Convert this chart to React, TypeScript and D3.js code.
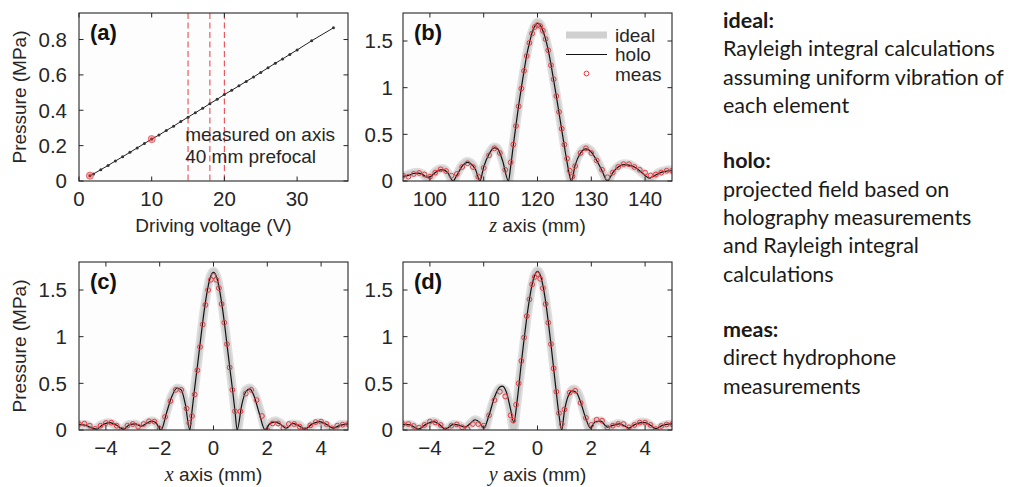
import React from 'react';
import * as d3 from 'd3';

// ---------- Panel (a): pressure vs driving voltage ----------
const voltageA = [1.5, 2, 3, 4, 5, 6, 7, 8, 9, 10, 11, 12, 13, 14, 15, 16, 17, 18, 19, 20, 21, 22, 23, 24, 25, 26, 27, 28, 29, 30, 32, 35];
const pressureA = [0.030, 0.040, 0.064, 0.088, 0.113, 0.137, 0.162, 0.187, 0.212, 0.237, 0.260, 0.285, 0.310, 0.336, 0.361, 0.386, 0.411, 0.437, 0.462, 0.489, 0.513, 0.538, 0.563, 0.588, 0.614, 0.640, 0.666, 0.690, 0.716, 0.741, 0.793, 0.866];
const redVoltageA = [1.5, 10];
const redPressureA = [0.03, 0.237];
const dashedVoltageA = [15, 18, 20];
const xTicksA = [0, 10, 20, 30];
const yTicksA = [0, 0.2, 0.4, 0.6, 0.8];

// ---------- Panel (b): z axis ----------
const idealZ = [95, 96, 97, 97.8, 98.5, 99.5, 100, 101, 102, 102.5, 103.3, 104.3, 105, 106, 107, 107.5, 108.5, 109.3, 110, 111, 112, 112.5, 113.5, 114.6, 115, 115.5, 116, 116.5, 117, 117.5, 118, 118.5, 119, 119.5, 120, 120.5, 121, 121.5, 122, 122.5, 123, 123.5, 124, 124.5, 125, 125.5, 126.3, 127, 128, 129, 130, 131, 132, 133, 134, 135, 136, 137, 138, 139, 140, 140.8, 141.5, 142.5, 143.5, 144.5, 145];
const idealP_B = [0.05, 0.07, 0.09, 0.095, 0.08, 0.035, 0.04, 0.10, 0.13, 0.13, 0.09, 0.0, 0.07, 0.17, 0.21, 0.20, 0.12, 0.0, 0.16, 0.30, 0.365, 0.355, 0.22, 0.0, 0.15, 0.39, 0.61, 0.82, 1.01, 1.19, 1.36, 1.50, 1.60, 1.67, 1.70, 1.68, 1.62, 1.53, 1.41, 1.26, 1.09, 0.92, 0.74, 0.56, 0.38, 0.20, 0.0, 0.18, 0.31, 0.355, 0.32, 0.23, 0.11, 0.0, 0.10, 0.16, 0.185, 0.18, 0.15, 0.11, 0.06, 0.02, 0.05, 0.09, 0.11, 0.12, 0.115];
const holoZ = [95, 96, 97, 97.8, 98.5, 99.5, 100, 101, 102, 102.5, 103.3, 104.3, 105, 106, 107, 107.5, 108.5, 109.3, 110, 111, 112, 112.5, 113.5, 114.6, 115, 115.5, 116, 116.5, 117, 117.5, 118, 118.5, 119, 119.5, 120, 120.5, 121, 121.5, 122, 122.5, 123, 123.5, 124, 124.5, 125, 125.5, 126.3, 127, 128, 129, 130, 131, 132, 133, 134, 135, 136, 137, 138, 139, 140, 140.8, 141.5, 142.5, 143.5, 144.5, 145];
const holoP_B = [0.05, 0.06, 0.08, 0.085, 0.075, 0.04, 0.045, 0.09, 0.12, 0.12, 0.09, 0.0, 0.06, 0.16, 0.20, 0.19, 0.12, 0.0, 0.15, 0.29, 0.355, 0.35, 0.22, 0.0, 0.15, 0.38, 0.60, 0.81, 1.00, 1.18, 1.35, 1.48, 1.59, 1.66, 1.69, 1.67, 1.61, 1.52, 1.40, 1.25, 1.08, 0.91, 0.73, 0.55, 0.37, 0.20, 0.0, 0.17, 0.30, 0.345, 0.31, 0.22, 0.11, 0.0, 0.09, 0.15, 0.175, 0.17, 0.15, 0.11, 0.06, 0.03, 0.05, 0.08, 0.10, 0.11, 0.11];
const measZ = [95, 96, 97, 98, 99, 100, 101, 102, 103, 104, 105, 106, 107, 108, 109, 110, 111, 112, 113, 114, 115, 115.5, 116, 116.5, 117, 117.5, 118, 118.5, 119, 119.5, 120, 120.5, 121, 121.5, 122, 122.5, 123, 123.5, 124, 124.5, 125, 125.5, 126, 126.5, 127, 128, 129, 130, 131, 132, 133, 134, 135, 136, 137, 138, 139, 140, 141, 142, 143, 144, 145];
const measP_B = [0.057, 0.046, 0.075, 0.086, 0.07, 0.046, 0.09, 0.125, 0.107, 0.057, 0.075, 0.15, 0.19, 0.15, 0.046, 0.14, 0.275, 0.35, 0.30, 0.12, 0.20, 0.39, 0.59, 0.80, 0.99, 1.18, 1.34, 1.48, 1.58, 1.65, 1.67, 1.66, 1.61, 1.52, 1.40, 1.24, 1.09, 0.91, 0.74, 0.56, 0.39, 0.24, 0.11, 0.05, 0.16, 0.30, 0.35, 0.30, 0.22, 0.12, 0.04, 0.09, 0.15, 0.18, 0.18, 0.15, 0.12, 0.09, 0.06, 0.07, 0.09, 0.11, 0.11];
const xTicksB = [100, 110, 120, 130, 140];
const yTicksProfile = [0, 0.5, 1, 1.5];

// ---------- Panel (c): x axis ----------
const idealX_C = [-5, -4.75, -4.45, -4.15, -3.9, -3.65, -3.4, -3.15, -2.9, -2.7, -2.5, -2.3, -2.15, -1.95, -1.75, -1.55, -1.35, -1.2, -1.05, -0.88, -0.8, -0.7, -0.6, -0.5, -0.4, -0.3, -0.2, -0.1, 0, 0.1, 0.2, 0.3, 0.4, 0.5, 0.6, 0.7, 0.8, 0.88, 1.05, 1.2, 1.35, 1.55, 1.75, 1.95, 2.15, 2.3, 2.5, 2.7, 2.9, 3.15, 3.4, 3.65, 3.9, 4.15, 4.45, 4.75, 5];
const idealP_C = [0.06, 0.06, 0.01, 0.06, 0.08, 0.05, 0.0, 0.06, 0.065, 0.03, 0.07, 0.10, 0.08, 0.0, 0.19, 0.37, 0.45, 0.43, 0.28, 0.0, 0.20, 0.45, 0.69, 0.93, 1.17, 1.38, 1.55, 1.66, 1.70, 1.66, 1.55, 1.38, 1.17, 0.93, 0.69, 0.45, 0.20, 0.0, 0.28, 0.43, 0.45, 0.37, 0.19, 0.0, 0.08, 0.10, 0.07, 0.03, 0.065, 0.06, 0.0, 0.05, 0.08, 0.06, 0.01, 0.06, 0.06];
const holoX_C = [-5, -4.75, -4.5, -4.35, -4.1, -3.85, -3.6, -3.35, -3.1, -2.9, -2.7, -2.5, -2.3, -2.15, -1.95, -1.75, -1.55, -1.35, -1.2, -1.05, -0.88, -0.8, -0.7, -0.6, -0.5, -0.4, -0.3, -0.2, -0.1, 0, 0.1, 0.2, 0.3, 0.4, 0.5, 0.6, 0.7, 0.8, 0.88, 1.05, 1.2, 1.35, 1.5, 1.7, 1.92, 2.1, 2.3, 2.5, 2.7, 2.95, 3.2, 3.4, 3.65, 3.95, 4.2, 4.45, 4.7, 5];
const holoP_C = [0.06, 0.05, 0.02, 0.01, 0.06, 0.08, 0.05, 0.01, 0.06, 0.065, 0.04, 0.07, 0.095, 0.08, 0.0, 0.18, 0.36, 0.45, 0.43, 0.28, 0.0, 0.20, 0.45, 0.68, 0.92, 1.16, 1.37, 1.54, 1.65, 1.69, 1.65, 1.54, 1.37, 1.16, 0.92, 0.68, 0.45, 0.20, 0.0, 0.27, 0.41, 0.44, 0.37, 0.18, 0.0, 0.07, 0.085, 0.06, 0.02, 0.07, 0.04, 0.01, 0.06, 0.09, 0.06, 0.02, 0.05, 0.065];
const measX_C = [-5, -4.8, -4.6, -4.4, -4.2, -4, -3.8, -3.6, -3.4, -3.2, -3, -2.8, -2.6, -2.4, -2.2, -2, -1.8, -1.6, -1.4, -1.2, -1, -0.9, -0.8, -0.7, -0.6, -0.5, -0.4, -0.3, -0.2, -0.1, 0, 0.1, 0.2, 0.3, 0.4, 0.5, 0.6, 0.7, 0.8, 1, 1.2, 1.4, 1.6, 1.8, 2, 2.2, 2.4, 2.6, 2.8, 3, 3.2, 3.4, 3.6, 3.8, 4, 4.2, 4.4, 4.6, 4.8, 5];
const measP_C = [0.064, 0.068, 0.046, 0.012, 0.046, 0.075, 0.079, 0.046, 0.005, 0.046, 0.064, 0.036, 0.064, 0.093, 0.09, 0.011, 0.14, 0.31, 0.43, 0.43, 0.23, 0.075, 0.15, 0.38, 0.64, 0.89, 1.13, 1.34, 1.50, 1.61, 1.65, 1.61, 1.52, 1.35, 1.15, 0.92, 0.67, 0.43, 0.20, 0.20, 0.39, 0.43, 0.32, 0.15, 0.0, 0.07, 0.07, 0.02, 0.064, 0.064, 0.036, 0.0, 0.05, 0.085, 0.09, 0.064, 0.018, 0.046, 0.057, 0.064];
const xTicksCD = [-4, -2, 0, 2, 4];

// ---------- Panel (d): y axis ----------
const idealX_D = [-5, -4.75, -4.42, -4.15, -3.88, -3.65, -3.42, -3.12, -2.9, -2.69, -2.5, -2.32, -2.15, -1.98, -1.78, -1.58, -1.38, -1.22, -1.05, -0.88, -0.8, -0.7, -0.6, -0.5, -0.4, -0.3, -0.2, -0.1, 0, 0.1, 0.2, 0.3, 0.4, 0.5, 0.6, 0.7, 0.8, 0.9, 1.05, 1.2, 1.35, 1.55, 1.75, 1.96, 2.15, 2.35, 2.6, 2.8, 3.05, 3.25, 3.42, 3.62, 3.88, 4.05, 4.2, 4.42, 4.7, 5];
const idealP_D = [0.06, 0.06, 0.01, 0.06, 0.09, 0.06, 0.0, 0.06, 0.05, 0.02, 0.07, 0.11, 0.08, 0.0, 0.18, 0.36, 0.45, 0.43, 0.27, 0.0, 0.20, 0.45, 0.69, 0.94, 1.18, 1.39, 1.56, 1.67, 1.71, 1.67, 1.56, 1.39, 1.17, 0.93, 0.68, 0.43, 0.18, 0.0, 0.25, 0.40, 0.44, 0.37, 0.17, 0.0, 0.09, 0.10, 0.03, 0.05, 0.07, 0.04, 0.01, 0.055, 0.085, 0.08, 0.05, 0.01, 0.05, 0.065];
const holoX_D = [-5, -4.74, -4.42, -4.15, -3.86, -3.65, -3.43, -3.12, -2.9, -2.69, -2.5, -2.32, -2.15, -2, -1.8, -1.6, -1.4, -1.3, -1.15, -1, -0.88, -0.75, -0.6, -0.5, -0.4, -0.3, -0.2, -0.1, 0, 0.1, 0.2, 0.3, 0.4, 0.5, 0.6, 0.7, 0.8, 0.9, 1, 1.15, 1.3, 1.45, 1.6, 1.8, 1.97, 2.15, 2.35, 2.6, 2.8, 3.05, 3.25, 3.4, 3.6, 3.85, 4, 4.2, 4.4, 4.65, 5];
const holoP_D = [0.06, 0.055, 0.01, 0.06, 0.09, 0.06, 0.01, 0.06, 0.05, 0.03, 0.07, 0.11, 0.08, 0.02, 0.16, 0.35, 0.46, 0.47, 0.40, 0.22, 0.08, 0.33, 0.72, 0.97, 1.20, 1.40, 1.56, 1.66, 1.70, 1.66, 1.55, 1.38, 1.16, 0.92, 0.66, 0.40, 0.16, 0.0, 0.20, 0.37, 0.42, 0.40, 0.30, 0.12, 0.02, 0.09, 0.095, 0.03, 0.05, 0.065, 0.04, 0.02, 0.055, 0.08, 0.08, 0.05, 0.015, 0.05, 0.065];
const measX_D = [-5, -4.8, -4.6, -4.4, -4.2, -4, -3.8, -3.6, -3.4, -3.2, -3, -2.8, -2.6, -2.4, -2.2, -2, -1.8, -1.6, -1.4, -1.2, -1, -0.9, -0.8, -0.7, -0.6, -0.5, -0.4, -0.3, -0.2, -0.1, 0, 0.1, 0.2, 0.3, 0.4, 0.5, 0.6, 0.7, 0.8, 0.9, 1, 1.2, 1.4, 1.6, 1.8, 2, 2.2, 2.4, 2.6, 2.8, 3, 3.2, 3.4, 3.6, 3.8, 4, 4.2, 4.4, 4.6, 4.8, 5];
const measP_D = [0.064, 0.064, 0.043, 0.025, 0.054, 0.09, 0.082, 0.054, 0.0, 0.046, 0.06, 0.029, 0.01, 0.064, 0.064, 0.046, 0.157, 0.32, 0.41, 0.36, 0.157, 0.10, 0.27, 0.50, 0.74, 0.99, 1.22, 1.40, 1.56, 1.64, 1.67, 1.62, 1.52, 1.35, 1.15, 0.92, 0.66, 0.41, 0.18, 0.064, 0.22, 0.40, 0.42, 0.29, 0.13, 0.054, 0.11, 0.10, 0.025, 0.046, 0.064, 0.064, 0.029, 0.054, 0.079, 0.079, 0.054, 0.01, 0.043, 0.06, 0.064];

// ---------- Legend & side notes ----------
const legendLabels = ['ideal', 'holo', 'meas'];
const notes: { text: string; bold: boolean }[][] = [
  [
    { text: 'ideal:', bold: true },
    { text: 'Rayleigh integral calculations', bold: false },
    { text: 'assuming uniform vibration of', bold: false },
    { text: 'each element', bold: false },
  ],
  [
    { text: 'holo:', bold: true },
    { text: 'projected field based on', bold: false },
    { text: 'holography measurements', bold: false },
    { text: 'and Rayleigh integral', bold: false },
    { text: 'calculations', bold: false },
  ],
  [
    { text: 'meas:', bold: true },
    { text: 'direct hydrophone', bold: false },
    { text: 'measurements', bold: false },
  ],
];

const SANS = '"Liberation Sans", Arial, Helvetica, sans-serif';
const SERIF = '"Liberation Serif", "Times New Roman", serif';
const AXIS = '#262626';
const RED = '#e8393f';
const FS = 19;
const TICK_FS = 20.5;

type Box = { left: number; right: number; top: number; bottom: number };
type Scales = { x: d3.ScaleLinear<number, number>; y: d3.ScaleLinear<number, number> };

function fmtTick(v: number) {
  const s = d3.format('~g')(v);
  return s.replace('-', '\u2212');
}

function Panel(props: {
  box: Box;
  xDomain: [number, number];
  yDomain: [number, number];
  xTicks: number[];
  yTicks: number[];
  tag: string;
  xLabel: React.ReactNode;
  yLabel?: string;
  yLabelGap: number;
  children: (s: Scales) => React.ReactNode;
}) {
  const { box, xDomain, yDomain, xTicks, yTicks, tag, xLabel, yLabel, yLabelGap, children } = props;
  const x = d3.scaleLinear().domain(xDomain).range([box.left, box.right]);
  const y = d3.scaleLinear().domain(yDomain).range([box.bottom, box.top]);
  const tl = 4.5;
  const clipId = 'clip-' + tag.replace(/[()]/g, '');
  return (
    <g>
      <defs>
        <clipPath id={clipId}>
          <rect x={box.left} y={box.top} width={box.right - box.left} height={box.bottom - box.top} />
        </clipPath>
      </defs>
      <rect x={box.left} y={box.top} width={box.right - box.left} height={box.bottom - box.top} fill="#fdfdfd" />
      <g clipPath={`url(#${clipId})`}>{children({ x, y })}</g>
      <rect x={box.left} y={box.top} width={box.right - box.left} height={box.bottom - box.top} fill="none" stroke={AXIS} strokeWidth={1.1} />
      {xTicks.map((t) => (
        <g key={'xt' + t}>
          <line x1={x(t)} x2={x(t)} y1={box.bottom} y2={box.bottom - tl} stroke={AXIS} />
          <line x1={x(t)} x2={x(t)} y1={box.top} y2={box.top + tl} stroke={AXIS} />
          <text x={x(t)} y={box.bottom + 25} textAnchor="middle" fontFamily={SANS} fontSize={TICK_FS} fill="#262626">
            {fmtTick(t)}
          </text>
        </g>
      ))}
      {yTicks.map((t) => (
        <g key={'yt' + t}>
          <line x1={box.left} x2={box.left + tl} y1={y(t)} y2={y(t)} stroke={AXIS} />
          <line x1={box.right} x2={box.right - tl} y1={y(t)} y2={y(t)} stroke={AXIS} />
          <text x={box.left - yLabelGap} y={y(t)} dy="0.36em" textAnchor="end" fontFamily={SANS} fontSize={TICK_FS} fill="#262626">
            {fmtTick(t)}
          </text>
        </g>
      ))}
      <text x={box.left + 11} y={box.top + 27} fontFamily={SANS} fontSize={22} fontWeight="bold" fill="#111">
        {tag}
      </text>
      <text x={(box.left + box.right) / 2} y={box.bottom + 51} textAnchor="middle" fontFamily={SANS} fontSize={FS} fill="#262626">
        {xLabel}
      </text>
      {yLabel && (
        <text
          transform={`translate(${box.left - 53},${(box.top + box.bottom) / 2}) rotate(-90)`}
          textAnchor="middle"
          fontFamily={SANS}
          fontSize={FS}
          fill="#262626"
        >
          {yLabel}
        </text>
      )}
    </g>
  );
}

function Profile({ s, idealX, idealP, holoX, holoP, measX, measP }: {
  s: Scales; idealX: number[]; idealP: number[]; holoX: number[]; holoP: number[]; measX: number[]; measP: number[];
}) {
  const line = d3
    .line<[number, number]>()
    .x((d) => s.x(d[0]))
    .y((d) => s.y(d[1]))
    .curve(d3.curveMonotoneX);
  const ideal = idealX.map((v, i) => [v, idealP[i]] as [number, number]);
  const holo = holoX.map((v, i) => [v, holoP[i]] as [number, number]);
  return (
    <g>
      <path d={line(ideal) || ''} fill="none" stroke="#dedede" strokeWidth={9} strokeLinejoin="round" strokeLinecap="round" />
      <path d={line(ideal) || ''} fill="none" stroke="#cccccc" strokeWidth={5.5} strokeLinejoin="round" strokeLinecap="round" />
      <path d={line(holo) || ''} fill="none" stroke="#111" strokeWidth={1.2} />
      {measX.map((v, i) => (
        <circle key={i} cx={s.x(v)} cy={s.y(measP[i])} r={2.4} fill="none" stroke={RED} strokeWidth={1} />
      ))}
    </g>
  );
}

const italic = (ch: string) => (
  <tspan fontFamily={SERIF} fontStyle="italic" fontSize={FS + 1}>
    {ch}
  </tspan>
);

export default function App() {
  const boxA: Box = { left: 79, right: 348, top: 13, bottom: 181 };
  const boxB: Box = { left: 403, right: 672, top: 13, bottom: 181 };
  const boxC: Box = { left: 79, right: 348, top: 262, bottom: 430 };
  const boxD: Box = { left: 403, right: 672, top: 262, bottom: 430 };
  const noteLine = 28.3;
  const groupGap = 55.5;
  let yCursor = 28;
  const noteRows: { text: string; bold: boolean; y: number }[] = [];
  notes.forEach((grp, gi) => {
    if (gi > 0) yCursor += groupGap - noteLine;
    grp.forEach((ln) => {
      noteRows.push({ ...ln, y: yCursor });
      yCursor += noteLine;
    });
  });

  return (
    <svg width={1013} height={487} style={{ position: 'absolute', left: 0, top: 0, background: '#fff' }}>
      <rect x={0} y={0} width={1013} height={487} fill="#fff" />
      <Panel
        box={boxA}
        xDomain={[0, 37]}
        yDomain={[0, 0.95]}
        xTicks={xTicksA}
        yTicks={yTicksA}
        tag="(a)"
        xLabel="Driving voltage (V)"
        yLabel="Pressure (MPa)"
        yLabelGap={12}
      >
        {(s) => {
          const pts = voltageA.map((v, i) => [v, pressureA[i]] as [number, number]);
          const ln = d3.line<[number, number]>().x((d) => s.x(d[0])).y((d) => s.y(d[1]));
          return (
            <g>
              {dashedVoltageA.map((v) => (
                <line key={v} x1={s.x(v)} x2={s.x(v)} y1={s.y(0.95)} y2={s.y(0)} stroke="#ec5a5f" strokeWidth={1.2} strokeDasharray="6,3.5" />
              ))}
              <path d={ln(pts) || ''} fill="none" stroke="#222" strokeWidth={1} />
              {pts.map((p, i) => (
                <circle key={i} cx={s.x(p[0])} cy={s.y(p[1])} r={1.5} fill="#333" />
              ))}
              {redVoltageA.map((v, i) => (
                <circle key={'r' + i} cx={s.x(v)} cy={s.y(redPressureA[i])} r={3.6} fill="rgba(232,57,63,0.45)" stroke="rgba(232,57,63,0.6)" strokeWidth={1} />
              ))}
              <text x={s.x(14.6)} y={140.5} fontFamily={SANS} fontSize={FS} fill="#262626">measured on axis</text>
              <text x={s.x(14.6)} y={163} fontFamily={SANS} fontSize={FS} fill="#262626">40 mm prefocal</text>
            </g>
          );
        }}
      </Panel>
      <Panel
        box={boxB}
        xDomain={[95, 145]}
        yDomain={[0, 1.8]}
        xTicks={xTicksB}
        yTicks={yTicksProfile}
        tag="(b)"
        xLabel={<>{italic('z')} axis (mm)</>}
        yLabelGap={10}
      >
        {(s) => <Profile s={s} idealX={idealZ} idealP={idealP_B} holoX={holoZ} holoP={holoP_B} measX={measZ} measP={measP_B} />}
      </Panel>
      {/* legend for (b) */}
      <g>
        <line x1={566} x2={607} y1={35} y2={35} stroke="#d0d0d0" strokeWidth={7} />
        <line x1={566} x2={607} y1={54.5} y2={54.5} stroke="#111" strokeWidth={1.2} />
        <circle cx={586.5} cy={73.5} r={2.4} fill="none" stroke={RED} strokeWidth={1} />
        {legendLabels.map((l, i) => (
          <text key={l} x={615} y={41.5 + i * 19.7} fontFamily={SANS} fontSize={FS} fill="#262626">
            {l}
          </text>
        ))}
      </g>
      <Panel
        box={boxC}
        xDomain={[-5, 5]}
        yDomain={[0, 1.8]}
        xTicks={xTicksCD}
        yTicks={yTicksProfile}
        tag="(c)"
        xLabel={<>{italic('x')} axis (mm)</>}
        yLabel="Pressure (MPa)"
        yLabelGap={12}
      >
        {(s) => <Profile s={s} idealX={idealX_C} idealP={idealP_C} holoX={holoX_C} holoP={holoP_C} measX={measX_C} measP={measP_C} />}
      </Panel>
      <Panel
        box={boxD}
        xDomain={[-5, 5]}
        yDomain={[0, 1.8]}
        xTicks={xTicksCD}
        yTicks={yTicksProfile}
        tag="(d)"
        xLabel={<>{italic('y')} axis (mm)</>}
        yLabelGap={10}
      >
        {(s) => <Profile s={s} idealX={idealX_D} idealP={idealP_D} holoX={holoX_D} holoP={holoP_D} measX={measX_D} measP={measP_D} />}
      </Panel>
      {/* side notes */}
      <g fontFamily='Lato, "Open Sans", sans-serif' fontSize={21.5} fill="#1a1a1a">
        {noteRows.map((r, i) => (
          <text key={i} x={723} y={r.y} fontWeight={r.bold ? 'bold' : 'normal'}>
            {r.text}
          </text>
        ))}
      </g>
    </svg>
  );
}
